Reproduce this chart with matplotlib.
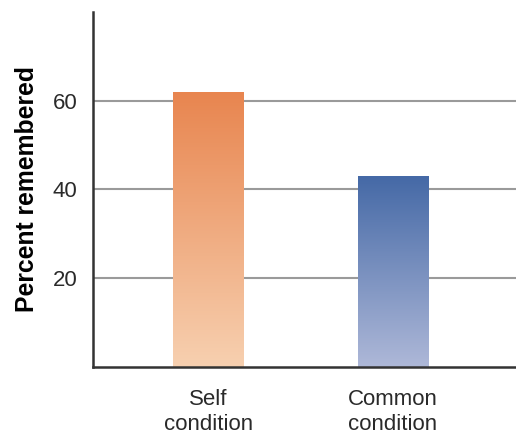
import matplotlib
matplotlib.use("Agg")
import matplotlib.pyplot as plt
import numpy as np
from matplotlib.colors import LinearSegmentedColormap

plt.rcParams['font.family'] = ['Liberation Sans', 'DejaVu Sans']

conditions = ["Self\ncondition", "Common\ncondition"]
remembered = [62, 43]
top_colors = ["#E8854F", "#4569A6"]
bottom_colors = ["#F7D0B0", "#AEB8D8"]

fig = plt.figure(figsize=(5.16, 4.41), dpi=100)
ax = fig.add_axes([0.180, 0.168, 0.820, 0.805])

x = np.arange(len(conditions))

for yv in [20, 40, 60]:
    ax.axhline(yv, color="#9a9a9a", lw=1.5, zorder=1)

bars = ax.bar(x, remembered, width=0.38, color="none", edgecolor="none", zorder=2)

# fill each bar with a vertical gradient, clipped to the bar rectangle
grad = np.linspace(0, 1, 256).reshape(-1, 1)
for bar, c_top, c_bot in zip(bars, top_colors, bottom_colors):
    cmap = LinearSegmentedColormap.from_list("g", [c_bot, c_top])
    x0, y0 = bar.get_x(), bar.get_y()
    w, h = bar.get_width(), bar.get_height()
    im = ax.imshow(grad, cmap=cmap, aspect="auto", origin="lower",
                   extent=[x0, x0 + w, y0, y0 + h], zorder=2)
    im.set_clip_path(bar)

ax.set_xlim(-0.626, 1.667)
ax.set_ylim(0, 80)

ax.set_yticks([20, 40, 60])
ax.set_xticks(x, labels=conditions, linespacing=1.25)
ax.tick_params(axis="y", length=0, labelsize=16, colors="#2a2a2a", pad=11)
ax.tick_params(axis="x", length=0, labelsize=16, colors="#2a2a2a", pad=16)
ax.set_ylabel("Percent remembered", fontsize=17.8, fontweight="bold", labelpad=10)

for side in ["top", "right"]:
    ax.spines[side].set_visible(False)
for side in ["left", "bottom"]:
    ax.spines[side].set_color("#333333")
    ax.spines[side].set_linewidth(1.8)
ax.spines["bottom"].set_zorder(3)

fig.savefig("out.png", dpi=100)
